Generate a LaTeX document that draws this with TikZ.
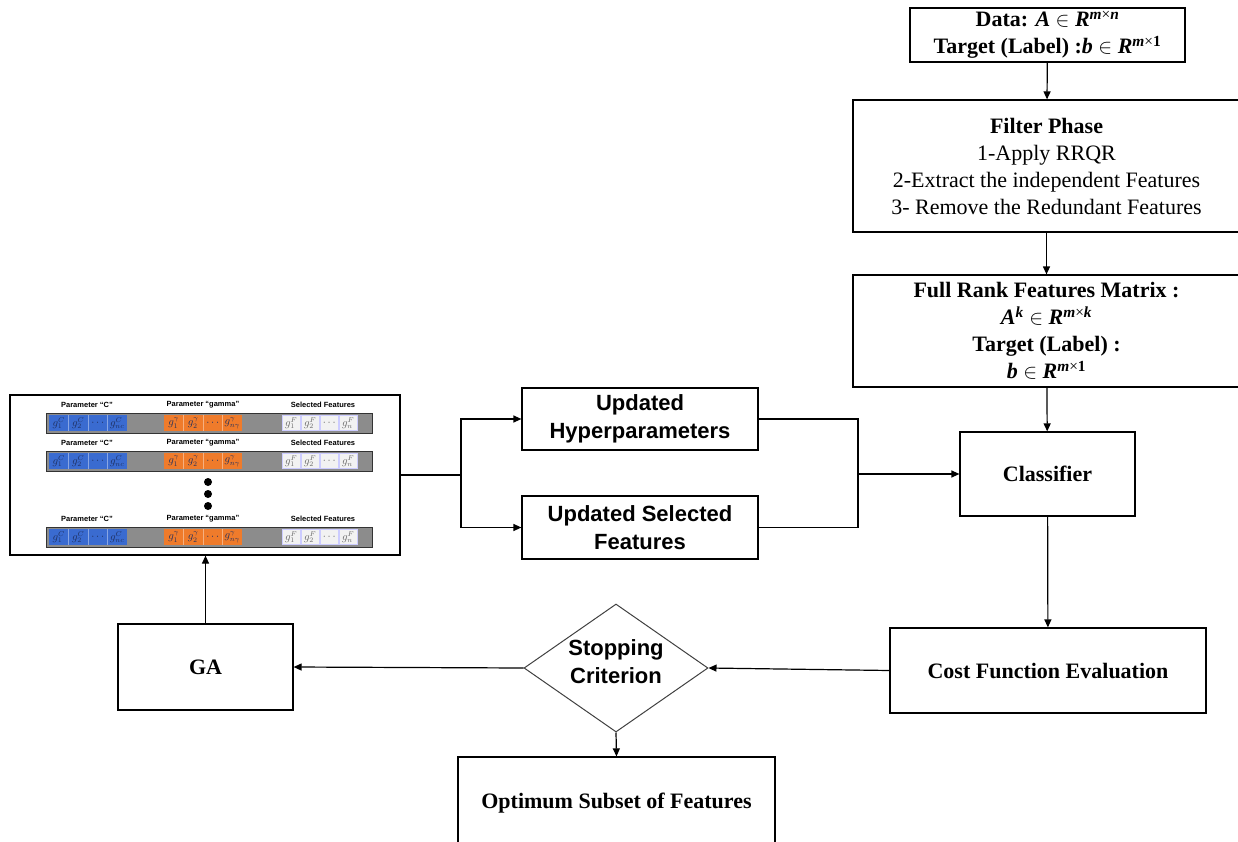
\documentclass[tikz,border=0pt]{standalone}
\usepackage{fontspec}
\setmainfont{Liberation Serif}
\newfontfamily\arial{Liberation Sans}
\usetikzlibrary{shapes.geometric,arrows.meta}
\definecolor{gblue}{HTML}{3A6BD0}
\definecolor{gorange}{HTML}{EF7B2B}
\definecolor{gbar}{HTML}{8C8C8C}
\definecolor{gcell}{HTML}{F2F2F2}
\definecolor{gtxt}{HTML}{1F2F5F}
\newcommand{\mv}[1]{\textbf{\textit{#1}}}
\begin{document}
\begin{tikzpicture}[x=1pt,y=-1pt,
  >={Triangle[length=8pt,width=7pt]},
  box/.style={draw, line width=1.2pt, inner sep=2pt, align=center,
    font=\fontsize{22}{27}\selectfont},
  sbox/.style={box, font=\arial\bfseries\fontsize{22}{28}\selectfont},
  conn/.style={->, line width=1.2pt},
  wire/.style={line width=1.2pt},
  lbl/.style={font=\arial\bfseries\fontsize{7.5}{7.5}\selectfont, inner sep=0},
  cell/.style={font=\fontsize{10.5}{10.5}\selectfont, text=gtxt, inner sep=0}]
\useasboundingbox (0,0) rectangle (1238,842);

% right column
\node[box, minimum width=275, minimum height=54] (data) at (1047.5,35)
  {\textbf{Data:} \mv{A} $\in$ \mv{R}\textsuperscript{\mv{m}×\mv{n}}\\
   \textbf{Target (Label) :}\mv{b} $\in$ \mv{R}\textsuperscript{\mv{m}×\textbf{1}}};
\node[box, minimum width=387, minimum height=132] (filter) at (1046.5,166)
  {\textbf{Filter Phase}\\1-Apply RRQR\\2-Extract the independent Features\\3- Remove the Redundant Features};
\node[box, minimum width=387, minimum height=112] (full) at (1046.5,331)
  {\textbf{Full Rank Features Matrix :}\\
   \mv{A}\textsuperscript{\mv{k}} $\in$ \mv{R}\textsuperscript{\mv{m}×\mv{k}}\\
   \textbf{Target (Label) :}\\
   \mv{b} $\in$ \mv{R}\textsuperscript{\mv{m}×\textbf{1}}};
\node[box, minimum width=175, minimum height=84] (clf) at (1047.5,474) {\textbf{Classifier}};
\node[box, minimum width=316, minimum height=85] (cost) at (1048,670.5) {\textbf{Cost Function Evaluation}};

% middle
\node[sbox, minimum width=236, minimum height=62] (hyper) at (640,419) {Updated\\Hyperparameters};
\node[sbox, minimum width=236, minimum height=63] (usel) at (640,527.5) {Updated Selected\\Features};
\node[diamond, draw=black!75, line width=1pt, minimum width=184, minimum height=128, inner sep=0] (stop) at (616,668) {};
\node[font=\arial\bfseries\fontsize{22}{28}\selectfont, align=center] (stoptxt) at (616,662) {Stopping\\Criterion};
\node[box, minimum width=175, minimum height=86] (ga) at (205.5,667) {\textbf{GA}};
\node[box, minimum width=317, minimum height=92] (opt) at (616.5,803) {\textbf{Optimum Subset of Features}};

% chromosome inset
\node[draw, line width=1.2pt, minimum width=390, minimum height=160, inner sep=0] (chrom) at (205,475) {};
\foreach \r/\y in {1/413, 2/451, 3/527}{
  \node[lbl] (lc\r) at (87,\y-8) {Parameter “C”};
  \node[lbl] (lg\r) at (203,\y-8) {Parameter “gamma”};
  \node[lbl] (ls\r) at (323,\y-8) {Selected Features};
  \draw[draw=black!80, fill=gbar, line width=0.8pt] (46,\y) rectangle (372,\y+20);
  \fill[gblue] (49,\y+2) rectangle (127,\y+18);
  \fill[gorange] (164,\y+2) rectangle (242,\y+18);
  \foreach \k in {1,2,3}{
    \draw[gblue!60!white, line width=0.5pt] (49+19.5*\k,\y+2) -- (49+19.5*\k,\y+18);
    \draw[gorange!60!white, line width=0.5pt] (164+19.5*\k,\y+2) -- (164+19.5*\k,\y+18);
  }
  \foreach \k in {0,1,2,3}{
    \draw[fill=gcell, draw=blue!20, line width=0.5pt] (282.5+19*\k,\y+2.5) rectangle (300+19*\k,\y+17.5);
  }
  \node[cell] (c1\r) at (58.75,\y+10) {$g_1^C$};
  \node[cell] (c2\r) at (78.25,\y+10) {$g_2^C$};
  \node[cell] (c3\r) at (97.75,\y+10) {$\cdots$};
  \node[cell] (c4\r) at (117.25,\y+10) {$g_{nc}^C$};
  \node[cell] (y1\r) at (173.75,\y+10) {$g_1^\gamma$};
  \node[cell] (y2\r) at (193.25,\y+10) {$g_2^\gamma$};
  \node[cell] (y3\r) at (212.75,\y+10) {$\cdots$};
  \node[cell] (y4\r) at (232.25,\y+10) {$g_{n\gamma}^\gamma$};
  \node[cell, text=black!60] (f1\r) at (291.25,\y+10) {$g_1^F$};
  \node[cell, text=black!60] (f2\r) at (310.25,\y+10) {$g_2^F$};
  \node[cell, text=black!60] (f3\r) at (329.25,\y+10) {$\cdots$};
  \node[cell, text=black!60] (f4\r) at (348.25,\y+10) {$g_n^F$};
}
\fill (208,482) circle (4);
\fill (208,494) circle (4);
\fill (208,506) circle (4);

% connectors
\draw[conn] (data) -- (filter);
\draw[conn] (filter) -- (full);
\draw[conn] (full) -- (clf);
\draw[conn] (clf) -- (cost);
\draw[conn] (cost.west) -- (stop.east);
\draw[conn] (stop.west) -- (ga.east);
\draw[conn] (stop.south) -- (opt.north);
\draw[conn] (ga.north) -- (chrom.south -| ga.north);

\coordinate (split) at (461,475);
\draw[wire] (chrom.east) -- (split);
\draw[conn] (split) |- (hyper.west);
\draw[conn] (split) |- (usel.west);
\coordinate (join) at (858,474);
\draw[wire] (hyper.east) -| (join);
\draw[wire] (usel.east) -| (join);
\draw[conn] (join) -- (clf.west);
\end{tikzpicture}
\end{document}
